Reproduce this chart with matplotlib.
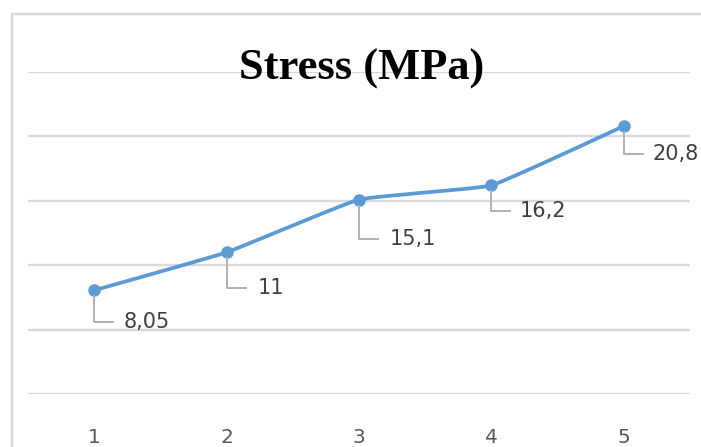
import numpy as np
import matplotlib
matplotlib.use("Agg")
import matplotlib.pyplot as plt
from matplotlib.lines import Line2D
from matplotlib.transforms import IdentityTransform

# ---- data ----
categories = [1, 2, 3, 4, 5]
stress = [8.05, 11, 15.1, 16.2, 20.8]
labels = ["8,05", "11", "15,1", "16,2", "20,8"]
title = "Stress (MPa)"

# ---- layout / style ----
W, H, DPI = 701, 447, 100
line_color = "#5B9BD5"
grid_color = "#D9D9D9"
leader_color = "#B0B0B0"
label_color = "#404040"
tick_color = "#595959"
# label offsets in pixels (down, right-to-text)
label_dy = [32, 36, 39, 26, 28]
label_dx = [29, 31, 31, 28, 29]
leader_len = 19
tension = 1.0 / 20.0

fig = plt.figure(figsize=(W / DPI, H / DPI), dpi=DPI)
ax = fig.add_axes([28 / W, (H - 394) / H, (690 - 28) / W, (394 - 72) / H])

ax.set_xlim(0.5, 5.5)
ax.set_ylim(0, 25)
ax.set_yticks([0, 5, 10, 15, 20, 25])
ax.yaxis.grid(True, color=grid_color, linewidth=1.7)
ax.set_axisbelow(True)
for s in ax.spines.values():
    s.set_visible(False)
ax.tick_params(axis="y", left=False, labelleft=False)
ax.set_xticks(categories)
ax.set_xticklabels([str(c) for c in categories])
ax.tick_params(axis="x", bottom=False, pad=21, labelsize=14.5, labelcolor=tick_color)

# lightly smoothed line through data points (pixel-scaled space)
x = np.array(categories, dtype=float)
y = np.array(stress, dtype=float)
sx, sy = 132.0, 12.88
P = np.column_stack([x * sx, y * sy])
Pext = np.vstack([P[0], P, P[-1]])
curve = []
for i in range(len(P) - 1):
    p0, p1, p2, p3 = Pext[i], Pext[i + 1], Pext[i + 2], Pext[i + 3]
    c1 = p1 + (p2 - p0) * tension
    c2 = p2 - (p3 - p1) * tension
    t = np.linspace(0, 1, 40)[:, None]
    seg = ((1 - t) ** 3) * p1 + 3 * ((1 - t) ** 2) * t * c1 + 3 * (1 - t) * t ** 2 * c2 + t ** 3 * p2
    curve.append(seg if i == 0 else seg[1:])
curve = np.vstack(curve)
ax.plot(curve[:, 0] / sx, curve[:, 1] / sy, color=line_color, linewidth=2.7,
        solid_capstyle="round", zorder=3)
ax.plot(x, y, linestyle="none", marker="o", markersize=8, color=line_color, zorder=4)

# data labels with leader lines
fig.canvas.draw()
for xi, yi, lab, dy, dx in zip(x, y, labels, label_dy, label_dx):
    px, py = ax.transData.transform((xi, yi))
    ln = Line2D([px, px, px + leader_len], [py - 6, py - dy, py - dy],
                transform=IdentityTransform(), color=leader_color, linewidth=1.4, zorder=2)
    fig.add_artist(ln)
    fig.text((px + dx) / W, (py - dy) / H, lab, ha="left", va="center",
             fontsize=15, color=label_color, family="DejaVu Sans")

# title
fig.text(362 / W, (H - 69) / H, title, ha="center", va="center",
         fontsize=32, fontweight="bold", family="Liberation Serif", color="#000000")

# chart-area border (left and top visible)
fig.add_artist(Line2D([12 / W, 12 / W], [0, (H - 14) / H], transform=fig.transFigure,
                      color=grid_color, linewidth=1.7))
fig.add_artist(Line2D([12 / W, 1.0], [(H - 14) / H, (H - 14) / H], transform=fig.transFigure,
                      color=grid_color, linewidth=1.7))

fig.savefig("out.png", dpi=DPI)
